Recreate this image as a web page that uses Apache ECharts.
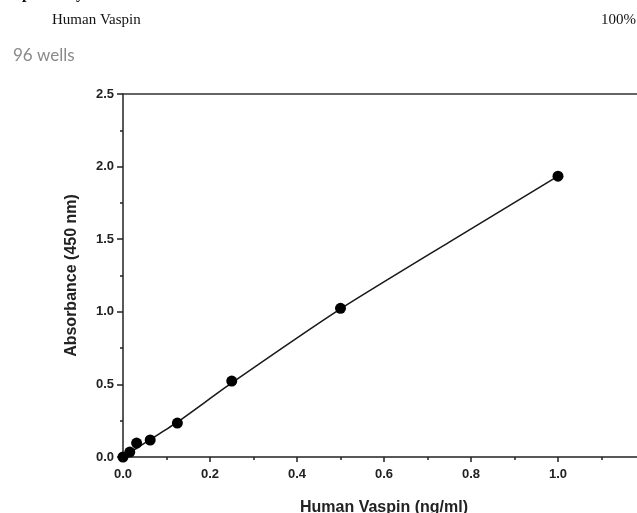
<!DOCTYPE html>
<html>
<head>
<meta charset="utf-8">
<script src="https://cdn.jsdelivr.net/npm/echarts@6/dist/echarts.min.js"></script>
<style>
  html, body { margin: 0; padding: 0; background: #fff; }
  #chart { width: 637px; height: 513px; }
</style>
</head>
<body>
<div id="chart"></div>
<script>
// Standard curve: measured concentrations (ng/ml) and absorbance at 450 nm
const concentrations = [0, 0.0156, 0.03125, 0.0625, 0.125, 0.25, 0.5, 1.0];
const absorbance = [0.0, 0.034, 0.096, 0.117, 0.234, 0.523, 1.024, 1.934];

// Fitted curve through the standards
const fitConcentrations = [0, 0.03125, 0.0625, 0.125, 0.25, 0.5, 0.75, 1.0];
const fitAbsorbance = [0.0, 0.06, 0.12, 0.24, 0.51, 1.02, 1.48, 1.934];

// Tick labels
const xTickLabels = ['0.0', '0.2', '0.4', '0.6', '0.8', '1.0'];
const yTickLabels = ['0.0', '0.5', '1.0', '1.5', '2.0', '2.5'];

const chart = echarts.init(document.getElementById('chart'));

const axisFont = {
  fontFamily: 'Liberation Sans, Arial, sans-serif',
  fontWeight: 'bold',
  fontSize: 13,
  color: '#222'
};
const nameFont = {
  fontFamily: 'Liberation Sans, Arial, sans-serif',
  fontWeight: 'bold',
  fontSize: 16,
  color: '#222'
};

chart.setOption({
  animation: false,
  grid: { left: 123, top: 94, width: 522, height: 363, outerBoundsMode: 'none', containLabel: false },
  graphic: [
    {
      type: 'text', left: 13, top: -14,
      style: { text: 'Specificity:', font: 'bold 16px "Liberation Serif", serif', fill: '#111' }
    },
    {
      type: 'text', left: 52, top: 13,
      style: { text: 'Human Vaspin', font: '15px "Liberation Serif", serif', fill: '#111' }
    },
    {
      type: 'text', right: 1, top: 13,
      style: { text: '100%', font: '15px "Liberation Serif", serif', fill: '#111' }
    },
    {
      type: 'text', left: 13, top: 47,
      style: { text: '96 wells', font: '17px Lato, "Open Sans", sans-serif', fill: '#8a8a8a' }
    }
  ],
  xAxis: [
    {
      type: 'value', min: 0, max: 1.2, interval: 0.2,
      name: 'Human Vaspin (ng/ml)', nameLocation: 'middle', nameGap: 43,
      nameTextStyle: nameFont,
      axisLine: { lineStyle: { color: '#222', width: 1.5 } },
      axisTick: { show: true, length: 5, lineStyle: { color: '#222', width: 1.5 } },
      minorTick: { show: true, splitNumber: 2, length: 3, lineStyle: { color: '#222', width: 1.5 } },
      splitLine: { show: false },
      axisLabel: Object.assign({}, axisFont, {
        margin: 11,
        formatter: v => { const i = Math.round(v / 0.2); return i < xTickLabels.length ? xTickLabels[i] : ''; }
      })
    },
    {
      type: 'value', min: 0, max: 1.2, position: 'top',
      axisLine: { show: true, lineStyle: { color: '#333', width: 1.5 } },
      axisTick: { show: false }, axisLabel: { show: false }, splitLine: { show: false }
    }
  ],
  yAxis: {
    type: 'value', min: 0, max: 2.5, interval: 0.5,
    name: 'Absorbance (450 nm)', nameLocation: 'middle', nameGap: 43,
    nameTextStyle: nameFont,
    axisLine: { show: true, lineStyle: { color: '#222', width: 1.5 } },
    axisTick: { show: true, length: 6, lineStyle: { color: '#222', width: 1.5 } },
    minorTick: { show: true, splitNumber: 2, length: 3, lineStyle: { color: '#222', width: 1.5 } },
    splitLine: { show: false },
    axisLabel: Object.assign({}, axisFont, {
      margin: 9,
      formatter: v => yTickLabels[Math.round(v / 0.5)] || ''
    })
  },
  series: [
    {
      type: 'line',
      data: fitConcentrations.map((x, i) => [x, fitAbsorbance[i]]),
      symbol: 'none',
      smooth: 0.2,
      lineStyle: { color: '#1a1a1a', width: 1.6 },
      z: 2
    },
    {
      type: 'scatter',
      data: concentrations.map((x, i) => [x, absorbance[i]]),
      symbol: 'circle',
      symbolSize: 11,
      clip: false,
      itemStyle: { color: '#000', opacity: 1 },
      z: 3
    }
  ]
});
</script>
</body>
</html>
